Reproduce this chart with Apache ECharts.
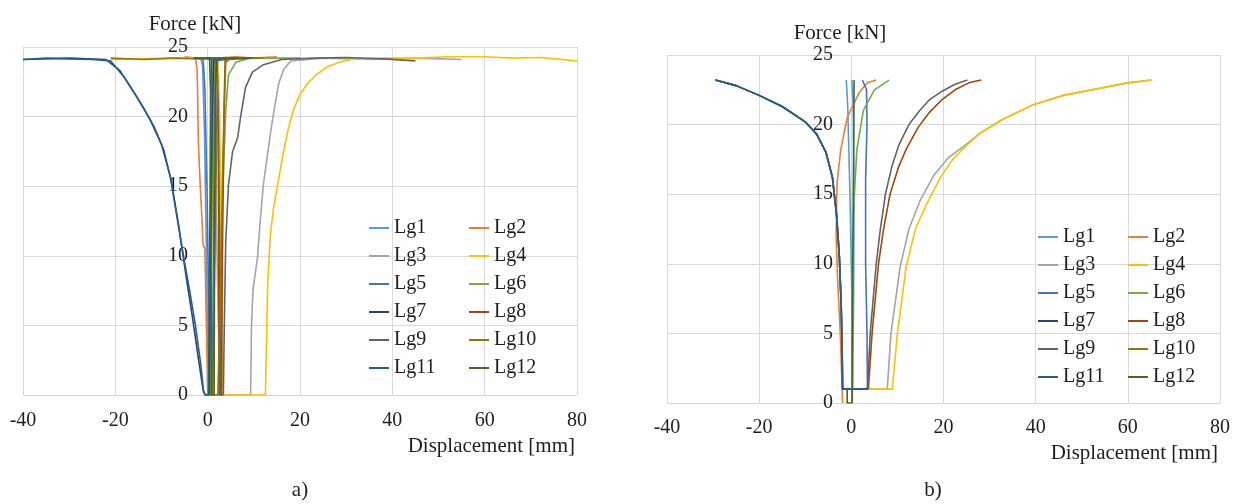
<!DOCTYPE html>
<html>
<head>
<meta charset="utf-8">
<script src="https://cdn.jsdelivr.net/npm/echarts@6/dist/echarts.min.js"></script>
<style>
  html, body { margin: 0; padding: 0; background: #fff; }
  #chart { width: 1240px; height: 504px; }
</style>
</head>
<body>
<div id="chart"></div>
<script>
// Series names and colours
const names = ['Lg1','Lg2','Lg3','Lg4','Lg5','Lg6','Lg7','Lg8','Lg9','Lg10','Lg11','Lg12'];
const colors = ['#5B9BD5','#ED7D31','#A5A5A5','#FFC000','#4472C4','#70AD47',
                '#264478','#9E480E','#636363','#997300','#255E91','#43682B'];

// Axis ranges and ticks
const xTicks = { min: -40, max: 80, interval: 20 };
const yTicks = { min: 0, max: 25, interval: 5 };

// a) measured force–displacement records [displacement mm, force kN]
const aLg1 = [[-3,24.2],[-1.5,24.2],[-1.1,23.6],[-0.7,19],[-0.3,11],[0,3],[0.1,0],[0.4,0],[0.6,6],[0.9,15],[1.2,22],[1.6,24.1],[5,24.2]];
const aLg2 = [[-5,24.3],[-2.6,24.2],[-2.3,23.4],[-2.2,22],[-2.0,18],[-1.6,15],[-1.2,12.4],[-1.0,10.8],[-0.6,10.5],[-0.4,7],[-0.1,2],[0,0],[0.5,0],[0.8,10],[1.2,20],[1.6,23.8],[2.2,24.2],[6,24.3],[10,24.2],[15,24.3]];
const aLg3 = [[-3,24.2],[1,24.2],[1.4,21],[1.9,12],[2.4,4],[2.7,0],[9.3,0],[9.5,5],[9.8,7.5],[10.8,9.9],[11.4,12.6],[12.1,15.2],[13.6,18.8],[14.4,20.5],[15.4,22.4],[16.5,23.4],[18,24],[25,24.2],[35,24.1],[45,24.2],[55,24.1]];
const aLg4 = [[-21,24.1],[-15,24.15],[-8,24.2],[2.2,24.2],[2.6,20],[2.9,10],[3.2,0],[12.5,0],[12.7,3],[13,8],[13.6,11.6],[14.3,13.5],[15.2,15.2],[16.5,17.6],[17.5,19.2],[18.6,20.5],[20,21.6],[21.7,22.4],[23.5,23],[26,23.6],[28.5,23.9],[31,24.1],[38,24.2],[45,24.2],[52,24.3],[60,24.3],[66,24.2],[72,24.25],[80,24.0]];
const aLg5 = [[-3,24.2],[-1,24.2],[-0.6,22],[-0.1,14],[0.3,5],[0.5,0],[1,0],[1.2,8],[1.4,18],[1.7,24],[6,24.2]];
const aLg6 = [[-3,24.2],[0.8,24.2],[1.1,23.5],[1.0,18],[0.8,10],[0.6,0],[2.6,0],[2.9,6],[3.2,13.1],[3.5,16.7],[3.9,20.3],[4.5,23],[6.1,23.9],[9,24.2],[20,24.2]];
const aLg7 = [[-40,24.1],[-30,24.2],[-22,24.1],[-19,23.3],[-15.5,21.5],[-12.5,19.8],[-10,18],[-8,15.6],[-6.3,12.2],[-4.7,8.6],[-3.3,5.6],[-2,2.6],[-1,0.4],[-0.6,0],[0.3,0],[0.6,10],[1,20],[1.3,24],[3,24.2]];
const aLg8 = [[-3,24.2],[1.8,24.2],[2.1,23],[2.3,18],[2.4,8],[2.5,0],[3,0],[3.2,10],[3.5,20],[3.8,24.1],[10,24.2]];
const aLg9 = [[-3,24.2],[2,24.2],[2.3,20],[2.6,10],[2.8,0],[3.4,0],[3.6,5],[3.9,10.8],[4.5,15.1],[5.4,17.5],[6.5,18.5],[7.1,19.9],[8.2,22.1],[9.7,23.2],[11.9,23.7],[16,24.1],[23,24.2],[30,24.25],[38,24.15],[45,24.0]];
const aLg10 = [[-21,24.2],[-14,24.1],[-7,24.2],[1.8,24.1],[2.1,23],[1.8,15],[1.3,5],[1.1,0],[2.2,0],[2.8,8],[3.2,15.6],[3.7,21.6],[3.9,23.9],[5,24.2],[12,24.2]];
const aLg11 = [[-40,24.1],[-35,24.2],[-30,24.15],[-25,24.1],[-21,24.0],[-18,22.8],[-14,20.7],[-11.5,19.2],[-9.5,17.6],[-8,15.5],[-6.5,12.5],[-5.2,9.9],[-3.8,7.3],[-2.6,4.9],[-1.5,2.2],[-0.9,0.3],[-0.5,0],[0.2,0],[0.4,8],[0.6,18],[0.8,24.1],[4,24.2]];
const aLg12 = [[-3,24.2],[0.4,24.2],[0.6,22],[0.7,12],[0.8,0],[1.4,0],[1.5,12],[1.7,22],[2,24.2],[10,24.2]];

// b) simulated curves [displacement mm, force kN]
const bDescent = [[-29.5,23.2],[-25,22.8],[-20,22.1],[-15,21.3],[-10,20.2],[-7.5,19.3],[-5.5,18],[-4.1,16.2],[-3.2,13.5],[-2.6,10.5],[-2.2,7],[-2,4],[-1.9,1]];
const bLg1 = [[-1.1,23.2],[-0.8,21.5],[-0.3,15],[0.1,8],[0.3,1],[0.5,8],[0.6,15],[0.4,21.5],[0.1,23.2]];
const bLg2 = [[-1.9,0],[-2.4,5],[-3.0,9],[-3.3,12],[-3.1,15.8],[-2.3,18.2],[-0.9,20.5],[1.7,22.3],[3.5,23],[5.4,23.2]];
const bLg3 = [[-1.9,1],[7.8,1],[8.6,5],[10.6,9.8],[12.5,12.5],[15,14.6],[18,16.4],[21,17.6],[25,18.6],[28,19.4],[33,20.4],[39.3,21.4],[46,22.1],[53.8,22.6],[60,23],[65,23.2]];
const bLg4 = [[-1.9,1],[8.9,1],[10,5],[11.9,9.8],[14,12.6],[16.8,14.6],[19.5,16.3],[22,17.5],[25,18.5],[28,19.4],[33,20.4],[39.3,21.4],[46,22.1],[53.8,22.6],[60,23],[65.3,23.2]];
const bLg5 = bDescent.concat([[3.5,1],[3.4,5],[3.1,10],[3.1,16],[3.4,20],[3.3,22.5],[2.4,23.2]]);
const bLg6 = [[8.2,23.2],[5,22.5],[2.6,21],[1.2,18.2],[0.5,14],[0.2,8],[0.1,0]];
const bLg7 = bDescent.concat([[3.5,1]]);
const bLg8 = [[3.7,1],[4.5,5],[5.9,10],[7,12.5],[8.4,15],[10.3,17],[12,18.3],[14.5,19.8],[17,20.9],[19.7,21.8],[22.5,22.5],[25.5,23],[28.2,23.2]];
const bLg9 = [[3.5,1],[4.1,5],[5.4,10],[6.3,12.5],[7.4,15],[8.8,17],[10.4,18.6],[12.5,20],[14.8,21],[17,21.8],[19.7,22.4],[22.5,22.9],[25.2,23.2]];
const bLg10 = bDescent.slice();
const bLg11 = bDescent.concat([[3.5,1]]);
const bLg12 = [[0.6,23.2],[0.5,18],[0.3,10],[0.2,4],[0.2,0],[-0.9,0],[-0.9,1]];

const seriesA = [aLg1,aLg2,aLg3,aLg4,aLg5,aLg6,aLg7,aLg8,aLg9,aLg10,aLg11,aLg12];
const seriesB = [bLg1,bLg2,bLg3,bLg4,bLg5,bLg6,bLg7,bLg8,bLg9,bLg10,bLg11,bLg12];

const FONT = "'Liberation Serif', 'Times New Roman', serif";
const TEXT = '#1e1e1e';
const GRIDLINE = '#d9d9d9';

function xAxisFor(gridIndex, labelMargin, namePadTop) {
  return {
    type: 'value', gridIndex,
    min: xTicks.min, max: xTicks.max, interval: xTicks.interval,
    axisLine: { show: true, onZero: false, lineStyle: { color: GRIDLINE, width: 1 } },
    axisTick: { show: false },
    splitLine: { show: true, lineStyle: { color: GRIDLINE, width: 1 } },
    axisLabel: { margin: labelMargin, fontFamily: FONT, fontSize: 20, color: TEXT },
    name: 'Displacement [mm]', nameLocation: 'end', nameGap: -2,
    nameTextStyle: { fontFamily: FONT, fontSize: 21, color: TEXT, align: 'right',
                     verticalAlign: 'top', padding: [namePadTop, 0, 0, 0] }
  };
}
// The force axis sits at zero displacement: shift it in from the grid's left edge
function yAxisFor(gridIndex, shift, nameGap) {
  return {
    type: 'value', gridIndex, position: 'left', offset: -shift,
    min: yTicks.min, max: yTicks.max, interval: yTicks.interval,
    axisLine: { show: false, onZero: false },
    axisTick: { show: false },
    splitLine: { show: true, lineStyle: { color: GRIDLINE, width: 1 } },
    axisLabel: { margin: 19, fontFamily: FONT, fontSize: 20, color: TEXT },
    name: 'Force [kN]', nameLocation: 'end', nameGap: nameGap,
    nameTextStyle: { fontFamily: FONT, fontSize: 21, color: TEXT, padding: [0, 24, 0, 0] }
  };
}

const series = [];
[seriesA, seriesB].forEach((set, gi) => {
  set.forEach((data, i) => {
    series.push({
      type: 'line', name: names[i], xAxisIndex: gi, yAxisIndex: gi,
      data: data, symbol: 'none', showSymbol: false, smooth: false,
      lineStyle: { width: 1.6, color: colors[i] },
      itemStyle: { color: colors[i] },
      emphasis: { disabled: true }
    });
  });
});

function legendCol(left, top, items) {
  return {
    orient: 'vertical', left: left, top: top, data: items,
    icon: 'rect', itemWidth: 20, itemHeight: 2, itemGap: 8,
    selectedMode: false, padding: 0,
    textStyle: { fontFamily: FONT, fontSize: 20, lineHeight: 20, color: TEXT }
  };
}
const odd = names.filter((_, i) => i % 2 === 0);
const even = names.filter((_, i) => i % 2 === 1);

const chart = echarts.init(document.getElementById('chart'), null, { renderer: 'canvas' });
chart.setOption({
  animation: false,
  backgroundColor: '#ffffff',
  color: colors,
  grid: [
    { left: 23, right: 663, top: 47, bottom: 109, containLabel: false, outerBoundsMode: 'none' },
    { left: 667, right: 20, top: 55, bottom: 101, containLabel: false, outerBoundsMode: 'none' }
  ],
  xAxis: [xAxisFor(0, 16, 41), xAxisFor(1, 15, 40)],
  yAxis: [yAxisFor(0, 184, 12), yAxisFor(1, 185, 11)],
  legend: [
    legendCol(369, 218, odd), legendCol(469, 218, even),
    legendCol(1038, 227, odd), legendCol(1128, 227, even)
  ],
  graphic: [
    { type: 'text', x: 300, y: 490, style: { text: 'a)', font: '21px ' + FONT, fill: TEXT, align: 'center', verticalAlign: 'middle' } },
    { type: 'text', x: 933, y: 490, style: { text: 'b)', font: '21px ' + FONT, fill: TEXT, align: 'center', verticalAlign: 'middle' } }
  ],
  series: series
});
</script>
</body>
</html>
